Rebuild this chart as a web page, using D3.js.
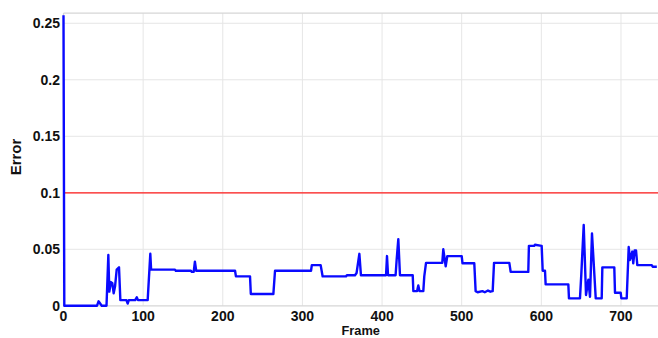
<!DOCTYPE html>
<html><head><meta charset="utf-8">
<script src="https://cdn.jsdelivr.net/npm/d3@7"></script>
<style>body{margin:0;background:#fff}svg{display:block}text{font-family:"Liberation Sans",Arial,sans-serif;font-weight:bold;fill:#111}</style>
</head><body>
<svg id="c" width="658" height="338"></svg>
<script>
const frames = [0,1,42,44,46,48,54,56.3,57.5,59.6,61.3,63,64.7,66.8,69.7,71.4,79,80.6,82,90,92,93.5,105.7,109,110,140,141,160,161,163.5,165,166.6,215.4,216.5,234.2,235.2,263.5,265.6,310.8,311.8,322.9,325.4,354.7,355.8,366,368,371.5,373.5,405,406.2,407.5,417,418.3,420.4,422.5,438.5,439.3,444,445.5,447,451.8,453,455.2,475.6,476.9,479.9,481.9,500,501,515.8,517.5,520,526,529,533,536,538.9,540.6,559.8,561.5,583.6,584.4,591,592,600.4,601.7,604.6,605.4,633.9,634.7,648.5,650.2,653.2,656.1,659,661.1,663.6,668.3,675.8,676.6,691.6,692.5,699.6,700.5,707.2,709.7,711.3,714.2,715.4,717.1,718.9,720.5,738.6,739.8,745];
const errors = [0.257,0,0,0.004,0.002,0,0,0.045,0.0125,0.021,0.020,0.011,0.017,0.032,0.034,0.005,0.005,0.002,0.005,0.005,0.0075,0.005,0.005,0.046,0.032,0.032,0.031,0.031,0.030,0.030,0.039,0.031,0.031,0.026,0.026,0.0104,0.0104,0.031,0.031,0.036,0.036,0.026,0.026,0.027,0.027,0.029,0.046,0.027,0.027,0.044,0.027,0.027,0.0405,0.059,0.027,0.027,0.013,0.013,0.018,0.013,0.013,0.026,0.038,0.038,0.050,0.035,0.044,0.044,0.0376,0.0376,0.013,0.012,0.013,0.012,0.0135,0.0125,0.013,0.038,0.038,0.030,0.030,0.053,0.053,0.054,0.053,0.031,0.031,0.019,0.019,0.0066,0.0066,0.028,0.0715,0.0096,0.023,0.008,0.064,0.0066,0.0066,0.034,0.034,0.0116,0.0116,0.0066,0.0066,0.052,0.0405,0.048,0.0376,0.049,0.049,0.036,0.036,0.0346,0.0346];
const threshold = 0.1;
const xTicks = [0,100,200,300,400,500,600,700];
const yTicks = [0,0.05,0.1,0.15,0.2,0.25];
const yTickLabels = ["0","0.05","0.1","0.15","0.2","0.25"];
const xTitle = "Frame", yTitle = "Error";

const svg = d3.select("#c");
const x = d3.scaleLinear().domain([0,750]).range([63.5,660.8]);
const y = d3.scaleLinear().domain([0,0.259]).range([305.8,13.1]);
const x0 = x.range()[0], x1 = 658, yb = y.range()[0], yt = y.range()[1];

// grid
const g = svg.append("g");
g.selectAll(".gx").data(xTicks.slice(1)).join("line")
  .attr("x1",d=>x(d)).attr("x2",d=>x(d)).attr("y1",yt).attr("y2",yb)
  .attr("stroke","#e6e6e6").attr("stroke-width",1);
g.selectAll(".gy").data(yTicks.slice(1)).join("line")
  .attr("x1",x0).attr("x2",x1).attr("y1",d=>y(d)).attr("y2",d=>y(d))
  .attr("stroke","#e6e6e6").attr("stroke-width",1);
// frame
svg.append("line").attr("x1",x0).attr("x2",x1).attr("y1",yt).attr("y2",yt).attr("stroke","#d6d6d6").attr("stroke-width",1.2);
svg.append("line").attr("x1",x0).attr("x2",x1).attr("y1",yb).attr("y2",yb).attr("stroke","#d6d6d6").attr("stroke-width",1.2);
svg.append("line").attr("x1",x0).attr("x2",x0).attr("y1",yt).attr("y2",yb).attr("stroke","#d6d6d6").attr("stroke-width",1.2);

// tick labels
svg.selectAll(".xl").data(xTicks).join("text")
  .attr("x",d=>x(d)).attr("y",320.6).attr("text-anchor","middle").attr("font-size",14).text(d=>d);
svg.selectAll(".yl").data(yTicks).join("text")
  .attr("x",60).attr("y",d=>y(d)+5).attr("text-anchor","end").attr("font-size",14).text((d,i)=>yTickLabels[i]);

svg.append("text").attr("x",(x0+x1)/2).attr("y",335.2).attr("text-anchor","middle").attr("font-size",12.8).text(xTitle);
svg.append("text").attr("transform","translate(21,157) rotate(-90)").attr("text-anchor","middle").attr("font-size",15).text(yTitle);

// threshold
svg.append("line").attr("x1",x0).attr("x2",x1).attr("y1",y(threshold)).attr("y2",y(threshold))
  .attr("stroke","#ff1a1a").attr("stroke-width",1.3);

// series
const line = d3.line().x((d,i)=>x(frames[i])).y((d,i)=>y(errors[i]));
svg.append("path").attr("d",line(frames)).attr("fill","none")
  .attr("stroke","#0a0aff").attr("stroke-width",2.4).attr("stroke-linejoin","round");
</script>
</body></html>
